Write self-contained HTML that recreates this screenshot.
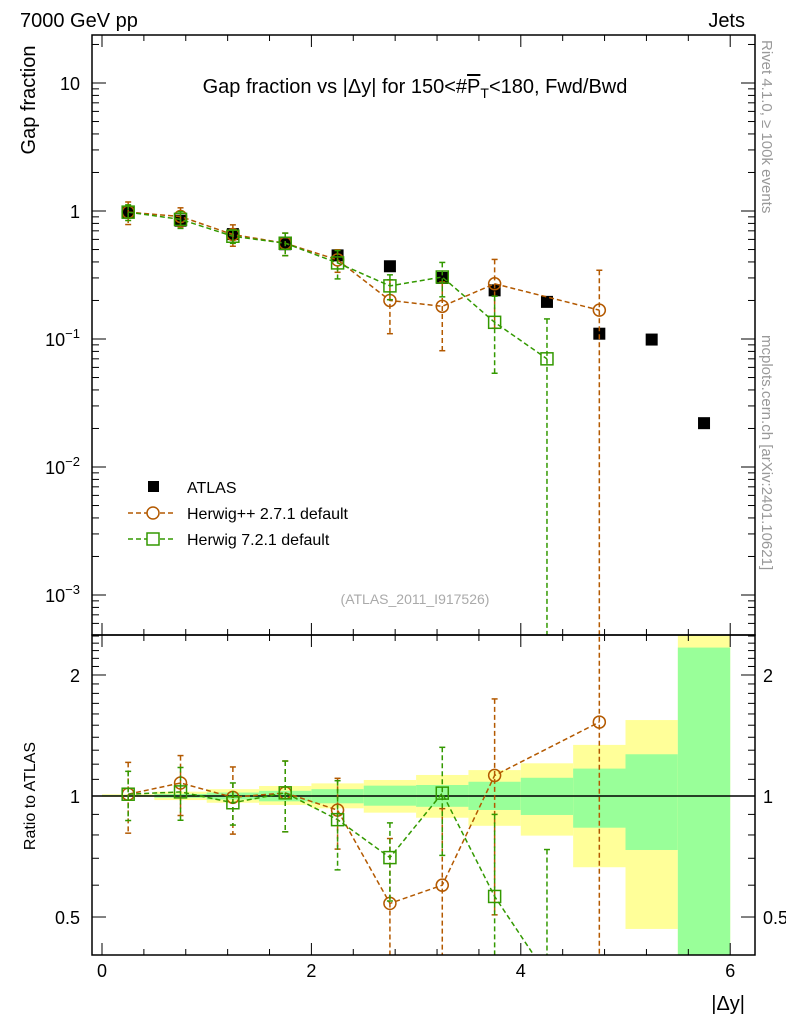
<!DOCTYPE html>
<html><head><meta charset="utf-8"><style>
html,body{margin:0;padding:0;background:#fff;width:786px;height:1024px;overflow:hidden;}
svg{display:block;font-family:"Liberation Sans",sans-serif;}
</style></head><body>
<svg id="c" width="786" height="1024" viewBox="0 0 786 1024" xmlns="http://www.w3.org/2000/svg">
<text x="20" y="27" font-size="20">7000 GeV pp</text>
<text x="745" y="27" font-size="20" text-anchor="end">Jets</text>
<text x="415" y="93" font-size="20" text-anchor="middle">Gap fraction vs |Δy| for 150&lt;#<tspan text-decoration="overline">P</tspan><tspan font-size="14" dy="5">T</tspan><tspan dy="-5">&lt;180, Fwd/Bwd</tspan></text>
<text transform="translate(35,100) rotate(-90)" font-size="20" text-anchor="middle">Gap fraction</text>
<text transform="translate(35,796) rotate(-90)" font-size="16" text-anchor="middle">Ratio to ATLAS</text>
<text x="745" y="1010" font-size="20" text-anchor="end">|Δy|</text>
<text transform="translate(762,40) rotate(90)" font-size="15" fill="#999">Rivet 4.1.0, ≥ 100k events</text>
<text transform="translate(762,335) rotate(90)" font-size="15" fill="#999">mcplots.cern.ch [arXiv:2401.10621]</text>
<text x="415" y="604" font-size="14" fill="#aaa" text-anchor="middle">(ATLAS_2011_I917526)</text>
<g id="g"></g>
</svg>
<script>
const xs=[0.25,0.75,1.25,1.75,2.25,2.75,3.25,3.75,4.25,4.75,5.25,5.75];
const atlas=[0.97,0.84,0.66,0.55,0.45,0.37,0.30,0.24,0.195,0.11,0.099,0.022];
const hppX=[0.25,0.75,1.25,1.75,2.25,2.75,3.25,3.75,4.75];
const hpp=[0.98,0.905,0.655,0.56,0.415,0.20,0.18,0.27,0.168];
const hppErr=[0.2,0.17,0.19,0.2,0.2,0.45,0.55,0.55,1.05];
const h7X=[0.25,0.75,1.25,1.75,2.25,2.75,3.25,3.75,4.25];
const h7=[0.98,0.86,0.635,0.56,0.393,0.26,0.305,0.135,0.07];
const h7Err=[0.14,0.15,0.12,0.2,0.25,0.22,0.3,0.6,1.05];
const yelUp=[1.01,1.025,1.04,1.059,1.075,1.096,1.128,1.16,1.206,1.34,1.545,3.0];
const yelDn=[0.995,0.977,0.962,0.95,0.932,0.909,0.883,0.843,0.797,0.665,0.467,0.2];
const grnUp=[1.005,1.012,1.02,1.03,1.04,1.061,1.065,1.085,1.11,1.17,1.27,2.34];
const grnDn=[0.998,0.99,0.98,0.97,0.959,0.946,0.94,0.923,0.897,0.834,0.734,0.2];
const xTicks=[0,2,4,6];
const yTicks=[-3,-2,-1,0,1];
const rTicks=[0.5,1,2];

const NS="http://www.w3.org/2000/svg";
const G=document.getElementById('g');
const X=v=>102+v*104.7;
const Y=v=>211-128*Math.log10(v);
const R=v=>796-402*Math.log10(v);
const L=92,Rt=755,T1=35,B1=635,B2=955;
function el(t,a,p){const e=document.createElementNS(NS,t);for(const k in a)e.setAttribute(k,a[k]);(p||G).appendChild(e);return e;}
const defs=el('defs',{});
const c1=el('clipPath',{id:'c1'},defs);el('rect',{x:L,y:T1,width:Rt-L,height:B1-T1},c1);
const c2=el('clipPath',{id:'c2'},defs);el('rect',{x:L,y:B1,width:Rt-L,height:B2-B1},c2);
const gm=el('g',{'clip-path':'url(#c1)'});


const gr=el('g',{'clip-path':'url(#c2)'});



for(let i=0;i<xs.length;i++){
 const x0=X(xs[i]-0.25),w=X(xs[i]+0.25)-x0;
 const y=el('rect',{x:x0,y:R(yelUp[i]),width:w,height:R(yelDn[i])-R(yelUp[i]),fill:'#ffff99'},gr);
 
 
 const g2=el('rect',{x:x0,y:R(grnUp[i]),width:w,height:R(grnDn[i])-R(grnUp[i]),fill:'#99ff99'},gr);
 
 
}
const one=el('line',{x1:L,x2:Rt,y1:R(1),y2:R(1),stroke:'#000','stroke-width':1.5},gr);



xs.forEach((x,i)=>{const s=el('rect',{x:X(x)-6,y:Y(atlas[i])-6,width:12,height:12,fill:'#000'},gm);
 
 });

function series(xx,vals,errs,col,marker,name){
 const atl=xx.map(x=>atlas[xs.indexOf(x)]);
 [[gm,Y,vals],[gr,R,vals.map((v,i)=>v/atl[i])]].forEach(([g,F,vv])=>{
  const p=el('polyline',{points:xx.map((x,i)=>X(x)+','+F(vv[i])).join(' '),fill:'none',stroke:col,'stroke-width':1.5,'stroke-dasharray':'5,3'},g);
  
  
  xx.forEach((x,i)=>{
   const hi=vv[i]*(1+errs[i]),lo=Math.max(vv[i]*(1-errs[i]),1e-6);
   const e=el('line',{x1:X(x),x2:X(x),y1:F(hi),y2:F(lo),stroke:col,'stroke-width':1.5,'stroke-dasharray':'5,3'},g);
   
   
   el('line',{x1:X(x)-3,x2:X(x)+3,y1:F(hi),y2:F(hi),stroke:col,'stroke-width':1.5},g);
   el('line',{x1:X(x)-3,x2:X(x)+3,y1:F(lo),y2:F(lo),stroke:col,'stroke-width':1.5},g);
   let m;
   if(marker==='o')m=el('circle',{cx:X(x),cy:F(vv[i]),r:6,fill:'none',stroke:col,'stroke-width':1.5},g);
   else m=el('rect',{x:X(x)-6,y:F(vv[i])-6,width:12,height:12,fill:'none',stroke:col,'stroke-width':1.5},g);
   
   
  });
 });
}
series(hppX,hpp,hppErr,'#b35900','o','herwigpp');
series(h7X,h7,h7Err,'#339900','s','herwig7');

[[T1,B1],[B1,B2]].forEach(([a,b])=>{const f=el('rect',{x:L,y:a,width:Rt-L,height:b-a,fill:'none',stroke:'#000','stroke-width':1.5});
 
 });
for(let k=0;k<=15;k++){const v=k*0.4,x=X(v);if(x>Rt)break;const big=Math.abs(v-Math.round(v/2)*2)<1e-6;const len=big?12:6;
 [B1,B2].forEach(b=>el('line',{x1:x,x2:x,y1:b,y2:b-len,stroke:'#000'}));
 [T1,B1].forEach(t=>el('line',{x1:x,x2:x,y1:t,y2:t+len,stroke:'#000'}));}
xTicks.forEach(v=>{const t=el('text',{x:X(v),y:977,'font-size':18,'text-anchor':'middle'});t.textContent=v;
 
 });
for(let d=-4;d<=1;d++){for(let m=1;m<10;m++){const v=m*Math.pow(10,d),y=Y(v);if(y<T1||y>B1-2)continue;const len=m===1?14:7;
 el('line',{x1:L,x2:L+len,y1:y,y2:y,stroke:'#000'});el('line',{x1:Rt,x2:Rt-len,y1:y,y2:y,stroke:'#000'});}}
yTicks.forEach(d=>{const t=el('text',{x:80,y:Y(Math.pow(10,d))+7,'font-size':18,'text-anchor':'end'});
 if(d===0)t.textContent='1';else if(d===1)t.textContent='10';else{t.textContent='10';const s=el('tspan',{'font-size':13,dy:-8},t);s.textContent='\u2212'+(-d);}
 
 });
for(let k=4;k<=25;k++){const v=k/10,y=R(v);if(y<B1||y>B2)continue;const big=(k===5||k===10||k===20);const len=big?14:7;
 el('line',{x1:L,x2:L+len,y1:y,y2:y,stroke:'#000'});el('line',{x1:Rt,x2:Rt-len,y1:y,y2:y,stroke:'#000'});}
rTicks.forEach(v=>{[[80,'end'],[763,'start']].forEach(([x,a])=>{const t=el('text',{x:x,y:R(v)+7,'font-size':18,'text-anchor':a});t.textContent=v;
 
 });});
const lg=el('g',{});


el('rect',{x:148,y:481,width:11,height:11,fill:'#000'},lg);
[['ATLAS',493],['Herwig++ 2.7.1 default',519],['Herwig 7.2.1 default',545]].forEach(([s,y])=>{const t=el('text',{x:187,y:y,'font-size':16},lg);t.textContent=s;
 
 });
el('line',{x1:128,x2:176,y1:513,y2:513,stroke:'#b35900','stroke-width':1.5,'stroke-dasharray':'5,3'},lg);
el('circle',{cx:153,cy:513,r:6,fill:'#fff',stroke:'#b35900','stroke-width':1.5},lg);
el('line',{x1:128,x2:176,y1:539,y2:539,stroke:'#339900','stroke-width':1.5,'stroke-dasharray':'5,3'},lg);
el('rect',{x:147,y:533,width:12,height:12,fill:'#fff',stroke:'#339900','stroke-width':1.5},lg);
</script>
</body></html>
